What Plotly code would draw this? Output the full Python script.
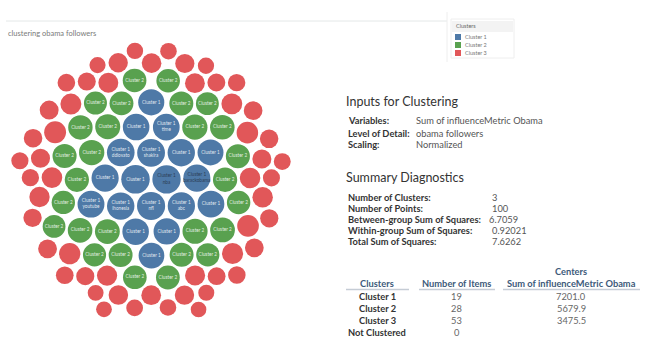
import math
import plotly.graph_objects as go

W, H = 652, 364

# ---------------- data ----------------
cluster_names = ["Cluster 1", "Cluster 2", "Cluster 3"]
cluster_colors = ["#4e79a7", "#59a14f", "#e15759"]

# influenceMetric per follower
cluster1_values = [7969, 7900, 7750, 7600, 7500, 7400, 7350, 7300, 7250, 7200,
                   7100, 7050, 7000, 6950, 6900, 6800, 6700, 6600, 6500]
cluster1_handles = ["", "nba", "nfl", "shakira", "ddlovato", "ihonesia", "", "abc", "",
                    "barackobama", "youtube", "", "time", "", "", "", "", "", ""]
cluster2_values = [6300, 6250, 6200, 6150, 6050, 6000, 5950, 5900, 5850, 5800,
                   5750, 5700, 5700, 5650, 5650, 5600, 5600, 5550, 5500, 5500,
                   5450, 5400, 5350, 5300, 5250, 5200, 5150, 5100]
cluster3_values = [4700, 3420, 4550, 2600, 4380, 3900, 2450, 4260, 3150, 4180,
                   3700, 2850, 4050, 3550, 2980, 4620, 3300, 2700, 3820, 3480,
                   2520, 4120, 3260, 3610, 2900, 4470, 3380, 2760, 3950, 3050,
                   2400, 3740, 3510, 4010, 2650, 3190, 3860, 2560, 4310, 3440,
                   3080, 2800, 3680, 3240, 4150, 2950, 3580, 2480, 3360, 3010,
                   3790, 2700, 3120]

title_text = "clustering obama followers"
inputs_title = "Inputs for Clustering"
inputs_labels = ["Variables:", "Level of Detail:", "Scaling:"]
inputs_values = ["Sum of influenceMetric Obama", "obama followers", "Normalized"]
diag_title = "Summary Diagnostics"
diag_labels = ["Number of Clusters:", "Number of Points:", "Between-group Sum of Squares:",
               "Within-group Sum of Squares:", "Total Sum of Squares:"]
diag_values = ["3", "100", "6.7059", "0.92021", "7.6262"]
table_headers = ["Clusters", "Number of Items", "Sum of influenceMetric Obama"]
table_clusters = ["Cluster 1", "Cluster 2", "Cluster 3", "Not Clustered"]
table_items = [19, 28, 53, 0]
table_centers = ["7201.0", "5679.9", "3475.5", ""]

# ---------------- circle packing (front-chain, as d3.packSiblings) ----------------
class Node:
    __slots__ = ("c", "next", "prev")

    def __init__(self, c):
        self.c = c
        self.next = None
        self.prev = None


def place(b, a, c):
    dx = b["x"] - a["x"]
    dy = b["y"] - a["y"]
    d2 = dx * dx + dy * dy
    if d2:
        a2 = (a["r"] + c["r"]) ** 2
        b2 = (b["r"] + c["r"]) ** 2
        if a2 > b2:
            x = (d2 + b2 - a2) / (2 * d2)
            y = math.sqrt(max(0, b2 / d2 - x * x))
            c["x"] = b["x"] - x * dx - y * dy
            c["y"] = b["y"] - x * dy + y * dx
        else:
            x = (d2 + a2 - b2) / (2 * d2)
            y = math.sqrt(max(0, a2 / d2 - x * x))
            c["x"] = a["x"] + x * dx - y * dy
            c["y"] = a["y"] + x * dy + y * dx
    else:
        c["x"] = a["x"] + c["r"]
        c["y"] = a["y"]


def intersects(a, b):
    dr = a["r"] + b["r"] - 1e-6
    dx = b["x"] - a["x"]
    dy = b["y"] - a["y"]
    return dr > 0 and dr * dr > dx * dx + dy * dy


def score(node):
    a = node.c
    b = node.next.c
    ab = a["r"] + b["r"]
    dx = (a["x"] * b["r"] + b["x"] * a["r"]) / ab
    dy = (a["y"] * b["r"] + b["y"] * a["r"]) / ab
    return dx * dx + dy * dy


def pack(circles):
    n = len(circles)
    a = circles[0]
    a["x"], a["y"] = 0.0, 0.0
    b = circles[1]
    a["x"] = -b["r"]
    b["x"] = a["r"]
    b["y"] = 0.0
    c = circles[2]
    place(b, a, c)
    a, b, c = Node(a), Node(b), Node(c)
    a.next = b
    c.prev = b
    b.next = c
    a.prev = c
    c.next = a
    b.prev = a
    i = 3
    while i < n:
        cc = circles[i]
        place(a.c, b.c, cc)
        c = Node(cc)
        j, k = b.next, a.prev
        sj, sk = b.c["r"], a.c["r"]
        restart = False
        while True:
            if sj <= sk:
                if intersects(j.c, c.c):
                    b = j
                    a.next = b
                    b.prev = a
                    restart = True
                    break
                sj += j.c["r"]
                j = j.next
            else:
                if intersects(k.c, c.c):
                    a = k
                    a.next = b
                    b.prev = a
                    restart = True
                    break
                sk += k.c["r"]
                k = k.prev
            if j is k.next:
                break
        if restart:
            continue
        c.prev = a
        c.next = b
        a.next = c
        b.prev = c
        b = c
        aa = score(a)
        c = c.next
        while c is not b:
            ca = score(c)
            if ca < aa:
                a, aa = c, ca
            c = c.next
        b = a.next
        i += 1
    return circles


items = []
for ci, vals in enumerate([cluster1_values, cluster2_values, cluster3_values]):
    for vi, v in enumerate(vals):
        handle = cluster1_handles[vi] if ci == 0 else ""
        items.append({"v": v, "cl": ci, "handle": handle})
items.sort(key=lambda d: -d["v"])

PAD = 1.3            # white gap between bubbles (px)
TARGET = 282.0       # overall size of the bubble pack (px)
CX, CY = 151.0, 180.0


def do_pack(k):
    circ = [{"r": k * math.sqrt(it["v"]) + PAD} for it in items]
    pack(circ)
    x0 = min(c["x"] - c["r"] for c in circ)
    x1 = max(c["x"] + c["r"] for c in circ)
    y0 = min(c["y"] - c["r"] for c in circ)
    y1 = max(c["y"] + c["r"] for c in circ)
    return circ, (x0, x1, y0, y1)


lo, hi = 0.05, 0.4
for _ in range(40):
    mid = (lo + hi) / 2
    _, (x0, x1, y0, y1) = do_pack(mid)
    if max(x1 - x0, y1 - y0) > TARGET:
        hi = mid
    else:
        lo = mid
circ, (x0, x1, y0, y1) = do_pack(lo)
ox = CX - (x0 + x1) / 2
oy = CY - (y0 + y1) / 2

shapes = []
lx, ly, lt, lc = [], [], [], []
for it, c in zip(items, circ):
    x, y, r = c["x"] + ox, c["y"] + oy, c["r"] - PAD
    shapes.append(dict(type="circle", xref="x", yref="y", x0=x - r, x1=x + r,
                       y0=y - r, y1=y + r, fillcolor=cluster_colors[it["cl"]],
                       line=dict(width=0), layer="below"))
    if it["cl"] < 2:
        t = cluster_names[it["cl"]]
        if it["handle"]:
            t += "<br>" + it["handle"]
        lx.append(x)
        ly.append(y)
        lt.append(t)
        lc.append("#2b3d55" if it["handle"] in ("nba", "barackobama") else "rgba(255,255,255,0.85)")

fig = go.Figure()
fig.add_trace(go.Scatter(x=lx, y=ly, text=lt, mode="text",
                         textfont=dict(size=4.7, color=lc, family="Lato"),
                         hoverinfo="skip", showlegend=False))

FONT = "Lato"
FS = 9.3


def P(px, py):
    return px / W, 1 - py / H


ann = []


def text(px, py, s, size, color, anchor="left", bold=False):
    x, y = P(px, py)
    ann.append(dict(x=x, y=y, xref="paper", yref="paper", text=(f"<b>{s}</b>" if bold else s),
                    showarrow=False, xanchor=anchor, yanchor="middle",
                    font=dict(size=size, color=color, family=FONT), borderpad=0))


def line(x0p, y0p, x1p, y1p, color, width=1):
    a = P(x0p, y0p)
    b = P(x1p, y1p)
    shapes.append(dict(type="line", xref="paper", yref="paper", x0=a[0], y0=a[1],
                       x1=b[0], y1=b[1], line=dict(color=color, width=width)))


def rect(x0p, y0p, x1p, y1p, fill, border=None):
    a = P(x0p, y0p)
    b = P(x1p, y1p)
    shapes.append(dict(type="rect", xref="paper", yref="paper", x0=a[0], y0=b[1],
                       x1=b[0], y1=a[1], fillcolor=fill,
                       line=dict(color=border or fill, width=1 if border else 0)))


# top rule + title
line(6, 21, 447, 21, "#e4e8e8")
line(447, 12, 447, 62, "#eeeeee")
text(7, 33, title_text, 7.5, "#7a7a7a")

# legend box
rect(451, 19, 514, 58, "#ffffff", "#eeeeee")
rect(452, 21, 513, 32, "#f3f3f3")
text(455, 26.5, "Clusters", 5.5, "#666666")
for i, (nm, col) in enumerate(zip(cluster_names, cluster_colors)):
    yy = 37 + i * 8
    rect(455, yy - 3, 461, yy + 3, col)
    text(464, yy, nm, 5.5, "#777777")

# inputs section
text(345, 101, inputs_title, 12.5, "#333333")
for i, (lab, val) in enumerate(zip(inputs_labels, inputs_values)):
    yy = 121 + i * 12
    text(347, yy, lab, FS, "#333333", bold=True)
    text(415, yy, val, FS, "#555555")

# diagnostics section
text(345, 177, diag_title, 12.5, "#333333")
for i, (lab, val) in enumerate(zip(diag_labels, diag_values)):
    yy = 197 + i * 11
    text(347, yy, lab, FS, "#333333", bold=True)
    text(488 if i == 2 else 491, yy, val, FS, "#555555")

# clusters table
col_c = [377, 457, 571]
hdr_col = "#3d5a7a"
text(col_c[2], 271, "Centers", FS, hdr_col, anchor="center", bold=True)
for cx_, h in zip(col_c, table_headers):
    text(cx_, 283, h, FS, hdr_col, anchor="center", bold=True)
for (a_, b_) in [(346, 409), (419, 495), (503, 640)]:
    line(a_, 289.5, b_, 289.5, "#c5ccd5", 1.5)
for i, (cl, n, cval) in enumerate(zip(table_clusters, table_items, table_centers)):
    yy = 296 + i * 12
    text(col_c[0], yy, cl, FS, "#333333", anchor="center", bold=True)
    text(col_c[1], yy, str(n), FS, "#666666", anchor="center")
    if cval:
        text(col_c[2], yy, cval, FS, "#666666", anchor="center")

fig.update_layout(
    width=W, height=H, margin=dict(l=0, r=0, t=0, b=0),
    paper_bgcolor="white", plot_bgcolor="white",
    xaxis=dict(domain=[0, 330 / W], range=[0, 330], visible=False, fixedrange=True),
    yaxis=dict(domain=[0, 1], range=[H, 0], visible=False, fixedrange=True),
    shapes=shapes, annotations=ann, showlegend=False,
)

fig.write_html("out.html", config={"displayModeBar": False},
               post_script="document.body.style.margin='0';document.body.style.overflow='hidden';")
